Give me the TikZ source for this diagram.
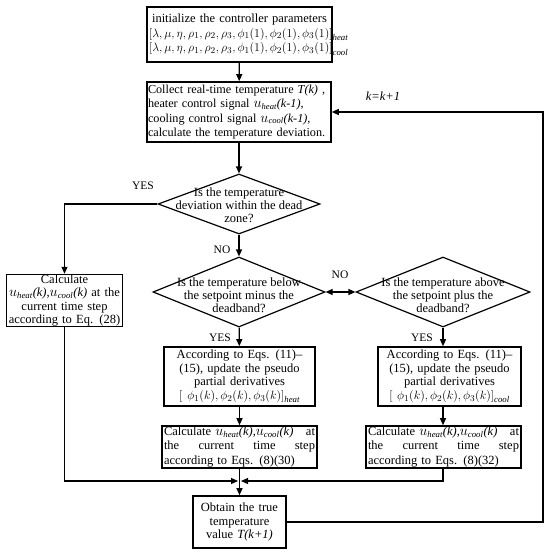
\documentclass[tikz,border=0pt]{standalone}
\usepackage{fontspec}
\setmainfont{Liberation Serif}
\usepackage{xcolor}
\usetikzlibrary{arrows.meta, positioning, calc, shapes.geometric}

\newcommand{\uheat}{$\mbox{\fontsize{14.5}{15}\selectfont$u$}_{\mathit{heat}}$}
\newcommand{\ucool}{$\mbox{\fontsize{14.5}{15}\selectfont$u$}_{\mathit{cool}}$}
\newcommand{\nohyph}{\hyphenpenalty=10000\relax}

\begin{document}
\begin{tikzpicture}[x=1pt, y=-1pt,
    box/.style={rectangle, draw, line width=1.6pt, inner xsep=2pt, inner ysep=0pt,
        font=\fontsize{12.5}{14.5}\selectfont, align=center},
    decision/.style={diamond, draw, line width=1.2pt, inner sep=0pt},
    qtext/.style={inner sep=0pt, font=\fontsize{12.5}{13}\selectfont, align=center},
    lbl/.style={inner sep=0pt, font=\fontsize{11.5}{13}\selectfont},
    arr/.style={line width=1.2pt, -{Triangle[length=7pt, width=6pt]}},
    dbl/.style={line width=1.2pt, {Triangle[length=7pt, width=6pt]}-{Triangle[length=7pt, width=6pt]}}]
    \useasboundingbox (0,0) rectangle (550,554);

    \node[box, text width=181pt, minimum width=185pt, minimum height=55pt] (init) at (239.5,34.5)
        {initialize the controller parameters\\
        $\big[\lambda, \mu,\eta,\rho_1,\rho_2,\rho_3,\phi_1(1),\phi_2(1),\phi_3(1)\big]_{\mathit{heat}}$\\
        $\big[\lambda, \mu,\eta,\rho_1,\rho_2,\rho_3,\phi_1(1),\phi_2(1),\phi_3(1)\big]_{\mathit{cool}}$};
    \node[box, align=left, inner xsep=1pt, text width=182pt, minimum width=184pt, minimum height=60pt,
        font=\fontsize{12.2}{14.5}\selectfont\nohyph] (collect) at (239,112)
        {Collect real-time temperature \textit{T(k)} ,\\
        heater control signal \uheat\textit{(k-1)},\\
        cooling control signal \ucool\textit{(k-1)},\\
        calculate the temperature deviation.};
    \node[lbl, font=\fontsize{12.5}{14}\selectfont] (kinc) at (383,96) {\textit{k=k+1}};

    \node[decision, minimum width=162pt, minimum height=60pt] (dead) at (239,204) {};
    \node[qtext] (deadq) at (239,205) {Is the temperature\\ deviation within the dead\\ zone?};
    \node[decision, minimum width=172pt, minimum height=70pt] (below) at (239,292) {};
    \node[qtext] (belowq) at (239,295) {Is the temperature below\\ the setpoint minus the\\ deadband?};
    \node[decision, minimum width=174pt, minimum height=70pt] (above) at (443,292) {};
    \node[qtext] (aboveq) at (443,295) {Is the temperature above\\ the setpoint plus the\\ deadband?};

    \node[box, text width=112pt, minimum width=116pt, minimum height=51pt,
        font=\fontsize{12.5}{13.5}\selectfont] (hold) at (64.5,300.5)
        {Calculate\\ \uheat\textit{(k)},\ucool\textit{(k)} at the\\ current time step\\ according to Eq. (28)};

    \node[box, text width=147pt, minimum width=151pt, minimum height=59pt,
        font=\fontsize{12.5}{13.5}\selectfont] (heatupd) at (239.5,376.5)
        {According to Eqs. (11)--\\ (15), update the pseudo\\ partial derivatives\\
        $\big[\;\phi_1(k),\phi_2(k),\phi_3(k)\big]_{\mathit{heat}}$};
    \node[box, text width=139pt, minimum width=143pt, minimum height=59pt,
        font=\fontsize{12.5}{13.5}\selectfont] (coolupd) at (449.5,376.5)
        {According to Eqs. (11)--\\ (15), update the pseudo\\ partial derivatives\\
        $\big[\;\phi_1(k),\phi_2(k),\phi_3(k)\big]_{\mathit{cool}}$};

    \node[box, align=left, text width=151pt, minimum width=155pt, minimum height=42pt] (heatcalc) at (239.5,447)
        {Calculate \uheat\textit{(k)},\ucool\textit{(k)}\hfill at\\
        the\hfill current\hfill time\hfill step\\
        according to Eqs. (8)(30)};
    \node[box, align=left, text width=151pt, minimum width=155pt, minimum height=42pt] (coolcalc) at (443.5,447)
        {Calculate \uheat\textit{(k)},\ucool\textit{(k)}\hfill at\\
        the\hfill current\hfill time\hfill step\\
        according to Eqs. (8)(32)};

    \node[box, text width=89pt, minimum width=93pt, minimum height=52pt,
        font=\fontsize{12.5}{13.5}\selectfont] (measure) at (239.5,522)
        {Obtain the true\\ temperature\\ value \textit{T(k+1)}};

    \node[lbl] (yes1) at (143,186) {YES};
    \node[lbl] (no1) at (222,250) {NO};
    \node[lbl] (no2) at (340,275) {NO};
    \node[lbl] (yes2) at (220,338) {YES};
    \node[lbl] (yes3) at (422,338) {YES};

    \coordinate (join) at (239.5,481);
    \coordinate (back) at (543,112);

    \draw[arr] (init) -- (collect);
    \draw[arr] (collect) -- (dead);
    \draw[arr] (dead.west) -| (hold.north);
    \draw[arr] (dead) -- (below);
    \draw[dbl] (below.east) -- (above.west);
    \draw[arr] (below) -- (heatupd);
    \draw[arr] (above.south) -- (above.south |- coolupd.north);
    \draw[arr] (heatupd) -- (heatcalc);
    \draw[arr] (above.south |- coolupd.south) -- (above.south |- coolcalc.north);
    \draw[arr] (heatcalc) -- (measure);
    \draw[arr] (hold.south) |- ([xshift=-1.5pt]join);
    \draw[arr] (above.south |- coolcalc.south) |- ([xshift=1.5pt]join);
    \draw[arr] (measure.east) -| (back) -- (collect.east);
\end{tikzpicture}
\end{document}
